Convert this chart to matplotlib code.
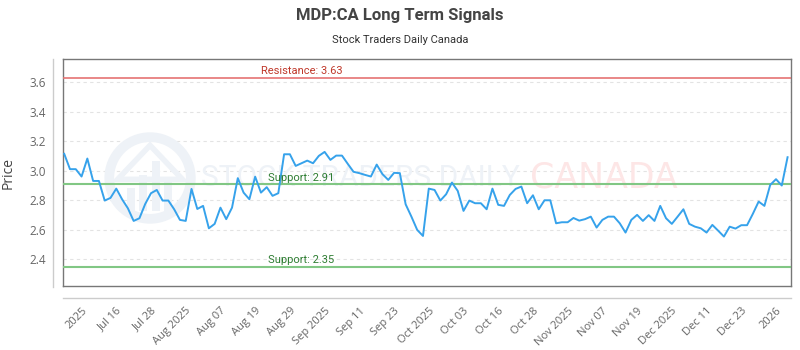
import matplotlib.pyplot as plt
from matplotlib.patches import Ellipse, Rectangle, Polygon
from matplotlib.lines import Line2D

# closing prices, one per trading session
prices = [
    3.115, 3.011, 3.011, 2.961, 3.083, 2.931, 2.931, 2.798, 2.816, 2.879,
    2.807, 2.746, 2.660, 2.678, 2.775, 2.848, 2.870, 2.798, 2.798, 2.739,
    2.667, 2.660, 2.877, 2.741, 2.762, 2.610, 2.640, 2.750, 2.672, 2.750,
    2.950, 2.852, 2.807, 2.960, 2.852, 2.889, 2.830, 2.848, 3.112, 3.112,
    3.033, 3.051, 3.069, 3.051, 3.101, 3.128, 3.074, 3.103, 3.103, 3.047,
    2.993, 2.984, 2.972, 2.961, 3.042, 2.977, 2.938, 2.986, 2.984, 2.773,
    2.689, 2.599, 2.558, 2.879, 2.870, 2.798, 2.841, 2.920, 2.864, 2.728,
    2.798, 2.780, 2.780, 2.739, 2.879, 2.769, 2.762, 2.836, 2.877, 2.893,
    2.780, 2.834, 2.739, 2.800, 2.800, 2.644, 2.651, 2.651, 2.680, 2.662,
    2.672, 2.689, 2.615, 2.667, 2.689, 2.689, 2.644, 2.581, 2.667, 2.701,
    2.660, 2.699, 2.660, 2.762, 2.678, 2.640, 2.689, 2.739, 2.640, 2.621,
    2.610, 2.581, 2.633, 2.594, 2.554, 2.621, 2.608, 2.631, 2.631, 2.708,
    2.791, 2.762, 2.904, 2.943, 2.900, 3.092,
]

tick_labels = [
    "2025", "Jul 16", "Jul 28", "Aug 2025", "Aug 07", "Aug 19", "Aug 29",
    "Sep 2025", "Sep 11", "Sep 23", "Oct 2025", "Oct 03", "Oct 16", "Oct 28",
    "Nov 2025", "Nov 07", "Nov 19", "Dec 2025", "Dec 11", "Dec 23", "2026",
]
tick_index = [3 + 6 * k for k in range(len(tick_labels))]

resistance = 3.63
supports = [2.91, 2.35]
y_ticks = [2.4, 2.6, 2.8, 3.0, 3.2, 3.4, 3.6]

fig = plt.figure(figsize=(8, 3.5), dpi=100)
ax = fig.add_axes([0.0788, 0.183, 0.910, 0.648])

x = list(range(len(prices)))
ax.plot(x, prices, color="#36a2eb", linewidth=1.4, zorder=5)

ax.axhline(resistance, color="#e57373", linewidth=1.2, zorder=3)
for s in supports:
    ax.axhline(s, color="#81c784", linewidth=1.5, zorder=3)

label_x = 41
ax.text(label_x, resistance + 0.01, f"Resistance: {resistance:.2f}", color="#c0392b",
        fontsize=8, family="Roboto", ha="center", va="bottom", zorder=6)
for s in supports:
    ax.text(label_x, s + 0.01, f"Support: {s:.2f}", color="#2e7d32",
            fontsize=8, family="Roboto", ha="center", va="bottom", zorder=6)

ax.set_xlim(-0.2, len(prices) - 0.4)
ax.set_ylim(2.219, 3.757)
ax.set_yticks(y_ticks)
ax.set_yticklabels([f"{v:.1f}" for v in y_ticks], family="Open Sans", fontsize=8.5, color="#666666")
ax.set_xticks(tick_index)
ax.set_xticklabels(tick_labels, rotation=45, ha="right", va="top", rotation_mode="anchor",
                   family="Open Sans", fontsize=8, color="#666666")
ax.tick_params(axis="y", length=0, pad=12)
ax.tick_params(axis="x", length=0, pad=14)
ax.grid(axis="y", linestyle=(0, (3, 3)), color="#e3e3e3", linewidth=0.8)
ax.set_axisbelow(True)
for sp in ax.spines.values():
    sp.set_color("#777777")
    sp.set_linewidth(1.0)
ax.set_ylabel("Price", family="Open Sans", fontsize=10, color="#444444")
ax.yaxis.set_label_coords(-0.065, 0.5)

# faint watermark
wm_blue = "#eef2f7"
ax.add_patch(Ellipse((0.1195, 0.476), 0.112, 0.36, transform=ax.transAxes, fill=False,
                     edgecolor=wm_blue, linewidth=7, zorder=1))
ax.add_patch(Polygon([(0.075, 0.47), (0.1195, 0.62), (0.164, 0.47)], closed=True,
                     transform=ax.transAxes, fill=False, edgecolor=wm_blue, linewidth=4, zorder=1))
for i, h in enumerate([0.10, 0.16, 0.22, 0.14]):
    ax.add_patch(Rectangle((0.088 + i * 0.017, 0.33), 0.011, h, transform=ax.transAxes,
                           facecolor=wm_blue, edgecolor="none", zorder=1))
ax.text(0.189, 0.476, "STOCK TRADERS DAILY", transform=ax.transAxes, fontsize=21.5,
        family="Roboto", color=wm_blue, ha="left", va="center", zorder=1)
ax.text(0.642, 0.476, "CANADA", transform=ax.transAxes, fontsize=25,
        family="DejaVu Sans", color="#fde6e6", ha="left", va="center", zorder=1)

# offset axis borders
fig.add_artist(Line2D([0.0666, 0.0666], [0.181, 0.831], color="#cccccc", linewidth=1))
fig.add_artist(Line2D([0.0788, 0.989], [0.150, 0.150], color="#cccccc", linewidth=1))

fig.text(0.5, 0.955, "MDP:CA Long Term Signals", ha="center", va="center",
         fontsize=12, fontweight="bold", family="Roboto", color="#444444")
fig.text(0.5, 0.885, "Stock Traders Daily Canada", ha="center", va="center",
         fontsize=8, family="Roboto", color="#333333")

fig.savefig("out.png", dpi=100)
